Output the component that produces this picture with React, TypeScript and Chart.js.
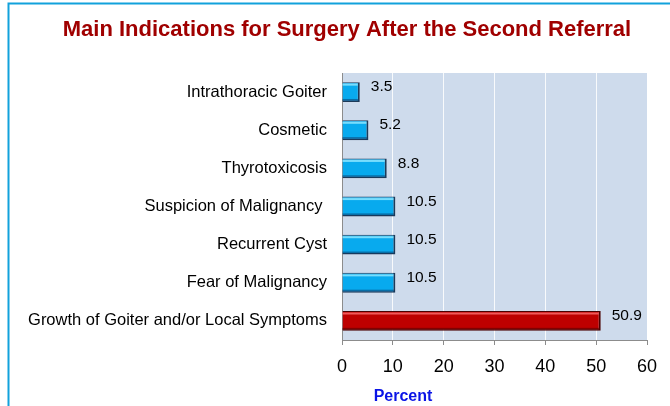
import React, { useEffect, useRef } from "react";
import { Chart, registerables } from "chart.js";

Chart.register(...registerables);

const TITLE = "Main Indications for Surgery After the Second Referral";
const AXIS_TITLE = "Percent";
const categories = [
  "Intrathoracic Goiter",
  "Cosmetic",
  "Thyrotoxicosis",
  "Suspicion of Malignancy ",
  "Recurrent Cyst",
  "Fear of Malignancy",
  "Growth of Goiter and/or Local Symptoms",
];
const values = [3.5, 5.2, 8.8, 10.5, 10.5, 10.5, 50.9];
const valueLabels = ["3.5", "5.2", "8.8", "10.5", "10.5", "10.5", "50.9"];
const xMin = 0;
const xMax = 60;
const xStep = 10;

const FONT = "'Liberation Sans', Arial, sans-serif";
const BLUE = "#08AAEE";
const RED = "#BE0000";

const decor = {
  id: "decor",
  beforeDraw(chart: any) {
    const { ctx, chartArea } = chart;
    ctx.save();
    ctx.fillStyle = "#ffffff";
    ctx.fillRect(0, 0, chart.width, chart.height);
    ctx.strokeStyle = "#12A2DC";
    ctx.lineWidth = 2;
    ctx.beginPath();
    ctx.moveTo(8.5, chart.height);
    ctx.lineTo(8.5, 3.5);
    ctx.lineTo(chart.width, 3.5);
    ctx.stroke();
    ctx.fillStyle = "#CEDBEC";
    ctx.fillRect(chartArea.left, chartArea.top, chartArea.right - chartArea.left, chartArea.bottom - chartArea.top);
    ctx.restore();
  },
  afterDatasetsDraw(chart: any) {
    const { ctx } = chart;
    const meta = chart.getDatasetMeta(0);
    ctx.save();
    meta.data.forEach((bar: any, i: number) => {
      const top = bar.y - bar.height / 2;
      const bottom = bar.y + bar.height / 2;
      const left = bar.base;
      const right = bar.x;
      const isRed = i === values.length - 1;
      ctx.fillStyle = isRed ? "rgba(255,120,120,0.75)" : "rgba(140,230,255,0.85)";
      ctx.fillRect(left, top + 1.5, right - left - 2, 2);
      ctx.fillStyle = isRed ? "rgba(90,0,0,0.6)" : "rgba(10,60,110,0.55)";
      ctx.fillRect(left, bottom - 3, right - left - 1, 2);
      ctx.fillStyle = "#000";
      ctx.font = `15.5px ${FONT}`;
      ctx.textBaseline = "middle";
      ctx.textAlign = "left";
      ctx.fillText(valueLabels[i], right + 11, bar.y - 5);
    });
    ctx.restore();
  },
  afterDraw(chart: any) {
    const { ctx } = chart;
    ctx.save();
    ctx.fillStyle = "#A00000";
    ctx.font = `bold 22px ${FONT}`;
    ctx.textAlign = "center";
    ctx.textBaseline = "middle";
    ctx.fillText(TITLE, 347, 30);
    ctx.fillStyle = "#0A14E6";
    ctx.font = `bold 16px ${FONT}`;
    ctx.fillText(AXIS_TITLE, 403, 397);
    ctx.restore();
  },
};

export default function App() {
  const ref = useRef<HTMLCanvasElement | null>(null);
  useEffect(() => {
    if (!ref.current) return;
    const chart = new Chart(ref.current, {
      type: "bar",
      data: {
        labels: categories,
        datasets: [
          {
            data: values,
            backgroundColor: values.map((_, i) => (i === values.length - 1 ? RED : BLUE)),
            borderColor: values.map((_, i) => (i === values.length - 1 ? "#4A0000" : "#1D3A58")),
            borderWidth: { top: 1, right: 2, bottom: 1.5, left: 0 } as any,
            borderSkipped: "start",
            barPercentage: 0.52,
            categoryPercentage: 1,
          },
        ],
      },
      options: {
        indexAxis: "y",
        responsive: false,
        animation: false,
        devicePixelRatio: 1,
        layout: { padding: { left: 0, top: 73, right: 23, bottom: 0 } },
        plugins: {
          legend: { display: false },
          title: { display: false },
          tooltip: { enabled: false },
        },
        scales: {
          x: {
            min: xMin,
            max: xMax,
            ticks: {
              stepSize: xStep,
              color: "#000",
              font: { family: FONT, size: 18 },
              padding: 11,
            },
            grid: {
              color: "rgba(255,255,255,0.85)",
              lineWidth: 1,
              tickLength: 5,
              tickColor: "#8C8C8C",
            },
            border: { display: true, color: "#8C8C8C", width: 1 },
            afterFit(scale: any) {
              scale.height = 66;
            },
          },
          y: {
            ticks: {
              color: "#000",
              font: { family: FONT, size: 16.5 },
              padding: 15,
            },
            grid: { display: false, drawTicks: false },
            border: { display: true, color: "#8C8C8C", width: 1 },
            afterFit(scale: any) {
              scale.width = 342;
            },
          },
        },
      },
      plugins: [decor],
    } as any);
    return () => chart.destroy();
  }, []);
  return (
    <div style={{ position: "absolute", left: 0, top: 0, width: 670, height: 406 }}>
      <canvas ref={ref} width={670} height={406} style={{ display: "block" }} />
    </div>
  );
}
